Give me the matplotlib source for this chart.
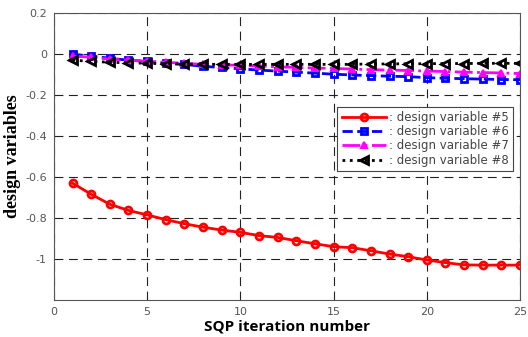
import matplotlib
matplotlib.use("Agg")
import matplotlib.pyplot as plt
import numpy as np

iterations = np.arange(1, 26)

dv5 = [-0.63, -0.684, -0.733, -0.763, -0.785, -0.808, -0.828, -0.845, -0.859, -0.870,
       -0.886, -0.895, -0.911, -0.926, -0.940, -0.945, -0.960, -0.976, -0.989, -1.005,
       -1.018, -1.029, -1.03, -1.03, -1.03]
dv6 = [0.0, -0.01, -0.02, -0.03, -0.035, -0.045, -0.05, -0.06, -0.065, -0.072,
       -0.078, -0.083, -0.088, -0.093, -0.098, -0.102, -0.105, -0.108, -0.11, -0.115,
       -0.118, -0.12, -0.122, -0.124, -0.125]
dv7 = [-0.01, -0.015, -0.025, -0.03, -0.035, -0.04, -0.045, -0.05, -0.052, -0.055,
       -0.058, -0.062, -0.065, -0.068, -0.07, -0.073, -0.076, -0.078, -0.08, -0.083,
       -0.085, -0.088, -0.09, -0.092, -0.095]
dv8 = [-0.03, -0.035, -0.04, -0.042, -0.045, -0.047, -0.048, -0.05, -0.05, -0.05,
       -0.05, -0.05, -0.05, -0.05, -0.05, -0.05, -0.048, -0.048, -0.047, -0.047,
       -0.046, -0.046, -0.045, -0.045, -0.045]

labels = [": design variable #5", ": design variable #6",
          ": design variable #7", ": design variable #8"]

fig = plt.figure(figsize=(5.28, 3.37), dpi=100)
ax = fig.add_axes([0.102, 0.11, 0.883, 0.851])

ax.plot(iterations, dv5, color="red", ls="-", lw=2, marker="o", ms=5,
        mfc="none", mew=2, label=labels[0])
ax.plot(iterations, dv6, color="blue", ls="--", lw=2, marker="s", ms=5,
        mfc="none", mew=2, label=labels[1])
ax.plot(iterations, dv7, color="magenta", ls="-.", lw=2, marker="^", ms=5,
        mfc="magenta", mew=1.5, label=labels[2])
ax.plot(iterations, dv8, color="black", ls=":", lw=2, marker="<", ms=5.5,
        mfc="none", mew=2, label=labels[3])

ax.set_xlim(0, 25)
ax.set_ylim(-1.2, 0.2)
ax.set_xticks([0, 5, 10, 15, 20, 25])
ax.set_yticks([-1, -0.8, -0.6, -0.4, -0.2, 0, 0.2])
ax.set_yticklabels(["-1", "-0.8", "-0.6", "-0.4", "-0.2", "0", "0.2"])
ax.grid(True, color="#222222", ls=(0, (8, 5)), lw=0.8)
ax.tick_params(labelsize=8, labelcolor="#555555", length=0, pad=5)
for s in ax.spines.values():
    s.set_color("#555555")

ax.set_xlabel("SQP iteration number", fontsize=11, fontweight="bold",
              family="Open Sans", labelpad=2)
ax.set_ylabel("design variables", fontsize=13, fontweight="bold",
              family="Liberation Serif", labelpad=3)

leg = ax.legend(loc="upper right", bbox_to_anchor=(0.997, 0.695), fontsize=8.5,
                frameon=True, fancybox=False, edgecolor="#444444",
                handlelength=3.8, handletextpad=0.2, borderpad=0.35,
                labelspacing=0.12, framealpha=1)
leg.get_frame().set_linewidth(0.8)
for t in leg.get_texts():
    t.set_color("#444444")

fig.savefig("out.png", dpi=100)
